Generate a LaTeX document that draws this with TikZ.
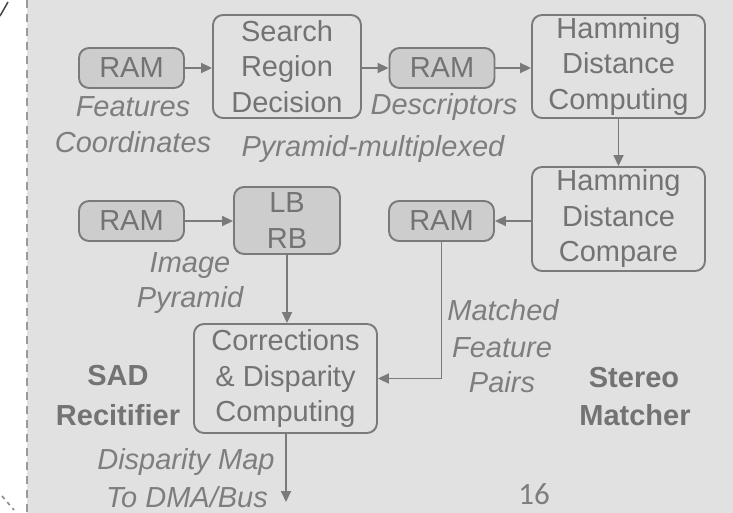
\documentclass[tikz,border=0pt]{standalone}
\usepackage{fontspec}
\setmainfont{Liberation Sans}
\newfontfamily\slidefont{Carlito}
\usetikzlibrary{arrows.meta}
\definecolor{panel}{HTML}{E1E1E1}
\definecolor{memfill}{HTML}{CDCDCD}
\definecolor{edge}{HTML}{7A7A7A}
\definecolor{ink}{HTML}{737373}
\definecolor{note}{HTML}{7E7E7E}
\definecolor{frame}{HTML}{9A9A9A}
\tikzset{
  unit/.style={draw=edge, line width=1.9pt, rounded corners=10pt, text=ink,
    inner sep=0pt, align=center, font=\fontsize{29}{35.5}\selectfont},
  ram/.style={unit, fill=memfill, minimum width=105pt, minimum height=40pt},
  proc/.style={unit},
  buffer/.style={unit, fill=memfill},
  conn/.style={draw=edge, line width=1.9pt, -{Triangle[length=11pt,width=10pt]}},
  note/.style={anchor=base, text=note, inner sep=0pt,
    font=\fontsize{29}{35}\selectfont\itshape},
  title/.style={anchor=base, text=ink, inner sep=0pt,
    font=\fontsize{29}{35}\selectfont\bfseries},
}
\begin{document}
\begin{tikzpicture}[x=1pt,y=-1pt]
\useasboundingbox (0,0) rectangle (733,513);
% slide background and the dashed edge of the panel
\fill[white] (0,0) rectangle (27,513);
\fill[panel] (27,0) rectangle (733,513);
\draw[frame, line width=2pt, dash pattern=on 8pt off 6pt] (27,0) -- (27,513);
\draw[black!70, line width=1.6pt] (0,16) -- (8,2);
\draw[black!45, line width=1.6pt, dash pattern=on 4pt off 4pt] (2,496) -- (14,510);

% stereo matcher path
\node[ram] (ram1) at (131.5,68) {RAM};
\node[proc, minimum width=148pt, minimum height=103pt] (search) at (287,66.5) {Search\\Region\\Decision};
\node[ram] (ram2) at (442,68) {RAM};
\node[proc, minimum width=173pt, minimum height=103pt] (hdcomp) at (618.5,66.5) {Hamming\\Distance\\Computing};
\node[proc, minimum width=173pt, minimum height=104pt] (hdcmp) at (618.5,219) {Hamming\\Distance\\Compare};
\node[ram] (ram3) at (441.5,221) {RAM};

% SAD rectifier path
\node[ram] (ram4) at (131.5,221) {RAM};
\node[buffer, minimum width=106pt, minimum height=67pt] (lbrb) at (287,220.5) {LB\\RB};
\node[proc, minimum width=183pt, minimum height=109pt] (corr) at (285.5,378.5) {Corrections\\\& Disparity\\Computing};
\coordinate (out) at (286,502);

% connectors
\draw[conn] (ram1.east) -- (ram1.east -| search.west);
\draw[conn] (ram2.west -| search.east) -- (ram2.west);
\draw[conn] (ram2.east) -- (ram2.east -| hdcomp.west);
\draw[conn] (hdcomp.south) -- (hdcmp.north);
\draw[conn] (ram3.east -| hdcmp.west) -- (ram3.east);
\draw[conn] (ram4.east) -- (ram4.east -| lbrb.west);
\draw[conn] (lbrb.south) -- (lbrb.south |- corr.north);
\draw[conn] (ram3.south) |- (corr.east);
\draw[conn] (corr.south -| out) -- (out);

% data labels
\node[note] (lf1) at (133,117) {Features};
\node[note] (lf2) at (133,153) {Coordinates};
\node[note] (ld) at (444,115) {Descriptors};
\node[note] (lp) at (373,157) {Pyramid-multiplexed};
\node[note] (li1) at (190,272) {Image};
\node[note] (li2) at (190,307) {Pyramid};
\node[note] (lm1) at (503,320) {Matched};
\node[note] (lm2) at (502,357) {Feature};
\node[note] (lm3) at (502,392) {Pairs};
\node[note] (lo1) at (186,469) {Disparity Map};
\node[note] (lo2) at (187,507) {To DMA/Bus};

% block titles
\node[title] (t1) at (118,385) {SAD};
\node[title] (t2) at (118,425) {Recitifier};
\node[title] (t3) at (634,387) {Stereo};
\node[title] (t4) at (635,425) {Matcher};

% page number
\node[anchor=base, inner sep=0pt, text=note, font=\fontsize{31}{31}\slidefont] (pg) at (534,504) {16};
\end{tikzpicture}
\end{document}
